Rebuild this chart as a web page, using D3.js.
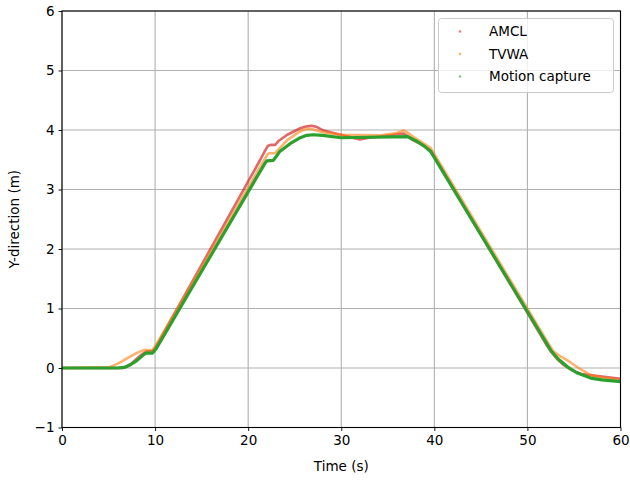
<!DOCTYPE html>
<html>
<head>
<meta charset="utf-8">
<script src="https://cdn.jsdelivr.net/npm/d3@7"></script>
<style>
  body { margin: 0; background: #fff; }
  text { font-family: 'DejaVu Sans', sans-serif; }
</style>
</head>
<body>
<svg id="chart" width="630" height="480"></svg>
<script>
// values
const seriesNames = ['AMCL', 'TVWA', 'Motion capture'];
const seriesColors = ['#d62728', '#ff7f0e', '#2ca02c'];

const amclT = [0, 6.5, 7.0, 7.5, 8.0, 8.5, 9.1, 9.7, 10.0, 21.3, 21.7, 22.1, 22.4, 22.9, 23.3, 24.2, 25.6, 26.2, 26.8, 27.4, 28.1, 29.9, 31.0, 32.0, 33.0, 34.2, 36.0, 36.7, 37.2, 37.7, 38.6, 39.6, 52.0, 52.6, 53.2, 53.9, 54.8, 55.8, 57.8, 60];
const amclY = [0, 0, 0.03, 0.08, 0.15, 0.22, 0.28, 0.28, 0.33, 3.50, 3.62, 3.73, 3.75, 3.75, 3.82, 3.92, 4.03, 4.06, 4.07, 4.05, 3.99, 3.92, 3.88, 3.84, 3.87, 3.89, 3.93, 3.94, 3.89, 3.83, 3.76, 3.66, 0.40, 0.26, 0.15, 0.05, -0.04, -0.10, -0.14, -0.18];

const tvwaT = [0, 5.0, 5.5, 6.3, 7.3, 8.0, 8.75, 9.7, 10.0, 22.0, 22.2, 22.9, 23.3, 24.2, 25.6, 26.3, 27.0, 28.1, 29.9, 34.2, 36.0, 36.3, 36.7, 37.2, 37.7, 38.6, 39.6, 52.3, 52.8, 53.5, 54.3, 55.5, 56.8, 58.0, 60];
const tvwaY = [0, 0.01, 0.04, 0.10, 0.19, 0.25, 0.30, 0.30, 0.36, 3.57, 3.61, 3.61, 3.68, 3.83, 3.98, 4.02, 4.01, 3.96, 3.92, 3.91, 3.95, 3.97, 3.99, 3.95, 3.89, 3.80, 3.70, 0.40, 0.28, 0.20, 0.13, 0.00, -0.12, -0.16, -0.20];

const mocapT = [0, 6.0, 6.7, 7.3, 8.0, 8.6, 9.0, 9.7, 10.1, 21.8, 22.0, 22.7, 23.0, 23.4, 24.5, 25.6, 26.3, 27.0, 28.0, 30.0, 37.1, 38.0, 39.0, 39.6, 52.5, 53.3, 54.3, 55.3, 56.8, 58.0, 60];
const mocapY = [0, 0, 0.01, 0.05, 0.12, 0.20, 0.25, 0.25, 0.32, 3.44, 3.48, 3.49, 3.55, 3.64, 3.77, 3.87, 3.91, 3.92, 3.91, 3.87, 3.89, 3.82, 3.72, 3.64, 0.30, 0.15, 0.02, -0.08, -0.17, -0.20, -0.23];

const xTicks = [0, 10, 20, 30, 40, 50, 60];
const yTicks = [-1, 0, 1, 2, 3, 4, 5, 6];

const series = [
  { name: seriesNames[0], color: seriesColors[0], t: amclT, y: amclY, width: 2.6, alpha: 0.7 },
  { name: seriesNames[1], color: seriesColors[1], t: tvwaT, y: tvwaY, width: 2.6, alpha: 0.6 },
  { name: seriesNames[2], color: seriesColors[2], t: mocapT, y: mocapY, width: 3.2, alpha: 1 }
];

const margin = { left: 62, right: 9.5, top: 11, bottom: 52.5 };
const W = 630, H = 480;

const svg = d3.select('#chart');
const x = d3.scaleLinear().domain([0, 60]).range([margin.left, W - margin.right]);
const y = d3.scaleLinear().domain([-1, 6]).range([H - margin.bottom, margin.top]);

// grid
svg.append('g')
  .selectAll('line.vgrid')
  .data(xTicks)
  .enter()
  .append('line')
  .attr('x1', d => x(d)).attr('x2', d => x(d))
  .attr('y1', margin.top).attr('y2', H - margin.bottom)
  .attr('stroke', '#b0b0b0').attr('stroke-width', 1.1);
svg.append('g')
  .selectAll('line.hgrid')
  .data(yTicks)
  .enter()
  .append('line')
  .attr('y1', d => y(d)).attr('y2', d => y(d))
  .attr('x1', margin.left).attr('x2', W - margin.right)
  .attr('stroke', '#b0b0b0').attr('stroke-width', 1.1);

// series
const plot = svg.append('g');
plot.append('clipPath').attr('id', 'clip')
  .append('rect')
  .attr('x', margin.left).attr('y', margin.top)
  .attr('width', W - margin.left - margin.right)
  .attr('height', H - margin.top - margin.bottom);

series.forEach(s => {
  const pts = d3.zip(s.t, s.y);
  plot.append('path')
    .datum(pts)
    .attr('clip-path', 'url(#clip)')
    .attr('fill', 'none')
    .attr('stroke', s.color)
    .attr('stroke-opacity', s.alpha)
    .attr('stroke-width', s.width)
    .attr('stroke-linejoin', 'round')
    .attr('d', d3.line().x(d => x(d[0])).y(d => y(d[1])));
});

// axes
const xAxis = d3.axisBottom(x).tickValues(xTicks).tickSize(3.5).tickPadding(4).tickFormat(d3.format('d'));
const yAxis = d3.axisLeft(y).tickValues(yTicks).tickSize(3.5).tickPadding(4)
  .tickFormat(d => d < 0 ? '\u2212' + Math.abs(d) : d);

const gx = svg.append('g').attr('transform', 'translate(0,' + (H - margin.bottom) + ')').call(xAxis);
const gy = svg.append('g').attr('transform', 'translate(' + margin.left + ',0)').call(yAxis);
[gx, gy].forEach(g => {
  g.select('.domain').remove();
  g.selectAll('line').attr('stroke', '#000').attr('stroke-width', 0.9);
  g.selectAll('text').attr('font-size', '13.5px').attr('fill', '#000')
    .style('font-family', "'DejaVu Sans', sans-serif");
});

// frame
svg.append('rect')
  .attr('x', margin.left).attr('y', margin.top)
  .attr('width', W - margin.left - margin.right)
  .attr('height', H - margin.top - margin.bottom)
  .attr('fill', 'none').attr('stroke', '#000').attr('stroke-width', 1.1);

// labels
svg.append('text')
  .attr('x', (margin.left + W - margin.right) / 2)
  .attr('y', 471)
  .attr('text-anchor', 'middle')
  .attr('font-size', '13.5px')
  .text('Time (s)');
svg.append('text')
  .attr('transform', 'translate(19,' + ((margin.top + H - margin.bottom) / 2) + ')rotate(-90)')
  .attr('text-anchor', 'middle')
  .attr('font-size', '13.5px')
  .text('Y-direction (m)');

// legend
const legend = svg.append('g');
legend.append('rect')
  .attr('x', 438.5).attr('y', 18.5)
  .attr('width', 175).attr('height', 74)
  .attr('rx', 3)
  .attr('fill', '#fff').attr('fill-opacity', 0.8)
  .attr('stroke', '#cccccc').attr('stroke-width', 1);
const rows = legend.selectAll('g.entry')
  .data(series)
  .enter()
  .append('g')
  .attr('class', 'entry')
  .attr('transform', (d, i) => 'translate(0,' + (31.5 + i * 22.5) + ')');
rows.append('circle')
  .attr('cx', 460).attr('cy', 0).attr('r', 1.3)
  .attr('fill', d => d.color).attr('fill-opacity', 0.6);
rows.append('text')
  .attr('x', 489).attr('y', 0)
  .attr('dy', '0.36em')
  .attr('font-size', '13.5px')
  .text(d => d.name);
</script>
</body>
</html>
